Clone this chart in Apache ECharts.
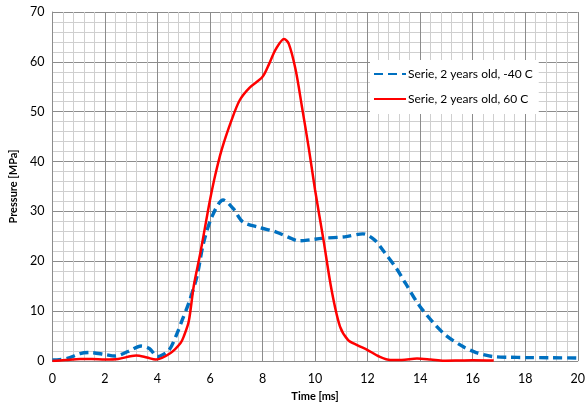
<!DOCTYPE html>
<html>
<head>
<meta charset="utf-8">
<script src="https://cdn.jsdelivr.net/npm/echarts@6/dist/echarts.min.js"></script>
<style>
html,body{margin:0;padding:0;background:#fff;}
#chart{width:588px;height:407px;}
</style>
</head>
<body>
<div id="chart"></div>
<script>
const seriesNames = ["Serie, 2 years old, -40 C", "Serie, 2 years old, 60 C"];
const xTitle = "Time [ms]";
const yTitle = "Pressure [MPa]";

const blueTime = [0, 0.56, 1.06, 1.44, 2.0, 2.38, 2.88, 3.38, 3.69, 4.0, 4.44, 4.75, 4.94, 5.19, 5.5, 5.75, 6.07, 6.5, 6.88, 7.25, 7.88, 8.5, 9.0, 9.38, 9.8, 10.26, 11.13, 11.82, 12.26, 12.57, 13.13, 13.44, 14.0, 14.88, 15.63, 16.13, 16.76, 17.4, 18.0, 19.0, 20.0];
const bluePressure = [0.2, 0.5, 1.5, 1.7, 1.3, 1.0, 1.9, 3.0, 2.5, 0.9, 2.2, 5.6, 8.2, 11.6, 16.9, 23.6, 28.9, 32.3, 30.6, 27.9, 26.8, 25.9, 24.8, 24.1, 24.3, 24.6, 24.9, 25.5, 24.3, 22.3, 18.3, 15.6, 10.9, 5.6, 2.9, 1.7, 0.9, 0.75, 0.7, 0.65, 0.6];

const redTime = [0, 0.5, 1.06, 1.5, 2.0, 2.5, 3.19, 3.6, 3.94, 4.5, 4.88, 5.0, 5.19, 5.38, 5.63, 5.85, 6.0, 6.2, 6.44, 6.82, 7.13, 7.5, 8.0, 8.26, 8.5, 8.82, 9.0, 9.26, 9.5, 9.76, 10.0, 10.32, 10.63, 10.95, 11.26, 11.6, 12.0, 12.4, 12.87, 13.3, 13.88, 14.4, 14.9, 15.5, 16.0, 16.8];
const redPressure = [0, 0.2, 0.4, 0.4, 0.3, 0.4, 1.1, 0.7, 0.3, 1.6, 3.6, 4.9, 7.9, 15.0, 21.6, 28.0, 32.3, 37.3, 42.3, 48.3, 52.3, 54.8, 57.0, 59.7, 62.5, 64.6, 63.6, 58.4, 51.0, 42.7, 34.3, 24.3, 14.2, 6.9, 4.2, 3.2, 2.2, 1.0, 0.2, 0.2, 0.5, 0.3, 0.05, 0.1, 0.15, 0.1];

const xTicks = {min: 0, max: 20, interval: 2};
const yTicks = {min: 0, max: 70, interval: 10};

function pairs(xs, ys) { return xs.map((x, i) => [x, ys[i]]); }

const chart = echarts.init(document.getElementById('chart'), null, {renderer: 'canvas'});
const font = 'Lato, "Liberation Sans", sans-serif';
chart.setOption({
  animation: false,
  backgroundColor: '#ffffff',
  textStyle: {fontFamily: font},
  grid: {left: 50, right: 5, top: 12, bottom: 46, containLabel: false},
  legend: {
    left: 370, top: 60,
    orient: 'vertical',
    backgroundColor: '#ffffff',
    padding: [8, 6, 9, 3],
    itemGap: 13,
    itemWidth: 32,
    itemHeight: 10,
    itemStyle: {opacity: 0},
    textStyle: {fontFamily: font, fontSize: 12, color: '#000', padding: [0, 0, 0, -3]},
    data: seriesNames
  },
  xAxis: {
    type: 'value', min: xTicks.min, max: xTicks.max, interval: xTicks.interval,
    name: xTitle, nameLocation: 'middle', nameGap: 30,
    nameTextStyle: {fontFamily: font, fontSize: 11, fontWeight: 'bold', color: '#000'},
    axisLine: {show: true, onZero: false, lineStyle: {color: '#8c8c8c', width: 1}},
    axisTick: {show: false},
    axisLabel: {color: '#000', fontSize: 12.5, margin: 11, fontFamily: font},
    splitLine: {show: true, lineStyle: {color: '#8c8c8c', width: 1}},
    minorTick: {show: false, splitNumber: 5},
    minorSplitLine: {show: true, lineStyle: {color: '#cfcfcf', width: 1}}
  },
  yAxis: {
    type: 'value', min: yTicks.min, max: yTicks.max, interval: yTicks.interval,
    name: yTitle, nameLocation: 'middle', nameGap: 30, nameRotate: 90,
    nameTextStyle: {fontFamily: font, fontSize: 11, fontWeight: 'bold', color: '#000'},
    axisLine: {show: true, lineStyle: {color: '#8c8c8c', width: 1}},
    axisTick: {show: false},
    axisLabel: {color: '#000', fontSize: 12.5, margin: 8, fontFamily: font},
    splitLine: {show: true, lineStyle: {color: '#8c8c8c', width: 1}},
    minorTick: {show: false, splitNumber: 5},
    minorSplitLine: {show: true, lineStyle: {color: '#cfcfcf', width: 1}}
  },
  series: [
    {
      name: seriesNames[0], type: 'line', smooth: 0.3, symbol: 'none',
      data: pairs(blueTime, bluePressure),
      lineStyle: {color: '#0070C0', width: 3.4, type: [9, 5], cap: 'butt'},
      itemStyle: {color: '#0070C0'}
    },
    {
      name: seriesNames[1], type: 'line', smooth: 0.3, symbol: 'none',
      data: pairs(redTime, redPressure),
      lineStyle: {color: '#FF0000', width: 2.5},
      itemStyle: {color: '#FF0000'}
    }
  ]
});
</script>
</body>
</html>
